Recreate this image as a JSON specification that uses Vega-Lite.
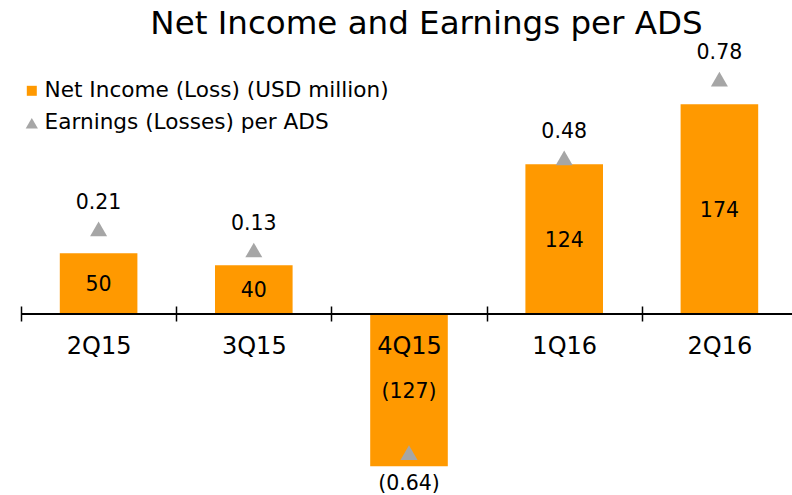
{
  "$schema": "https://vega.github.io/schema/vega-lite/v6.json",
  "width": 771,
  "height": 440,
  "autosize": {"type": "none"},
  "padding": {"left": 21, "top": 50, "right": 0, "bottom": 5},
  "background": "white",
  "config": {
    "view": {"stroke": null},
    "font": "DejaVu Sans",
    "text": {"font": "DejaVu Sans", "color": "#000000"}
  },
  "title": {
    "text": "Net Income and Earnings per ADS",
    "font": "DejaVu Sans",
    "fontSize": 32.5,
    "fontWeight": "normal",
    "color": "#000000",
    "anchor": "middle",
    "baseline": "alphabetic",
    "dx": 20,
    "offset": -23
  },
  "data": {
    "values": [
      {"quarter": "2Q15", "income": 50, "incomeLabel": "50", "eps": 0.21, "epsLabel": "0.21"},
      {"quarter": "3Q15", "income": 40, "incomeLabel": "40", "eps": 0.13, "epsLabel": "0.13"},
      {"quarter": "4Q15", "income": -127, "incomeLabel": "(127)", "eps": -0.64, "epsLabel": "(0.64)"},
      {"quarter": "1Q16", "income": 124, "incomeLabel": "124", "eps": 0.48, "epsLabel": "0.48"},
      {"quarter": "2Q16", "income": 174, "incomeLabel": "174", "eps": 0.78, "epsLabel": "0.78"}
    ]
  },
  "resolve": {"scale": {"y": "independent"}, "axis": {"x": "independent"}},
  "layer": [
    {
      "mark": {"type": "bar", "width": {"band": 0.5}},
      "encoding": {
        "x": {
          "field": "quarter", "type": "nominal", "sort": null,
          "scale": {"range": [0, 776], "paddingInner": 0, "paddingOuter": 0},
          "axis": {
            "orient": "bottom", "offset": -176.5, "title": null, "grid": false,
            "domainColor": "#000000", "domainWidth": 2,
            "tickColor": "#000000", "tickWidth": 1.5, "tickSize": 7.5, "tickBand": "extent",
            "labelFont": "DejaVu Sans", "labelFontSize": 24, "labelColor": "#000000",
            "labelAngle": 0, "labelBaseline": "middle", "labelPadding": 25, "zindex": 1
          }
        },
        "y": {
          "field": "income", "type": "quantitative",
          "scale": {"domain": [-146.7, 219.0], "nice": false, "zero": false},
          "axis": null
        },
        "color": {
          "datum": "Net Income (Loss) (USD million)",
          "scale": {
            "domain": ["Net Income (Loss) (USD million)", "Earnings (Losses) per ADS"],
            "range": ["#FF9900", "#A6A6A6"]
          },
          "legend": {
            "title": null,
            "orient": "none",
            "legendX": 0,
            "legendY": 30,
            "labelFont": "DejaVu Sans",
            "labelFontSize": 21.6,
            "labelColor": "#000000",
            "labelLimit": 500,
            "symbolSize": 110,
            "symbolOpacity": 1,
            "rowPadding": 9.5,
            "labelOffset": 2,
            "symbolStrokeWidth": 0,
            "encode": {
              "symbols": {
                "update": {
                  "shape": {"signal": "datum.label === 'Earnings (Losses) per ADS' ? 'triangle-up' : 'square'"},
                  "size": {"signal": "datum.label === 'Earnings (Losses) per ADS' ? 150 : 100"}
                }
              }
            }
          }
        }
      }
    },
    {
      "mark": {"type": "text", "fontSize": 20.5, "baseline": "middle", "align": "center", "dy": 2},
      "encoding": {
        "x": {"field": "quarter", "type": "nominal", "sort": null, "axis": null},
        "y": {
          "field": "income", "type": "quantitative",
          "scale": {"domain": [-293.4, 438.0], "nice": false, "zero": false},
          "axis": null
        },
        "text": {"field": "incomeLabel"}
      }
    },
    {
      "mark": {"type": "point", "shape": "triangle-up", "filled": true, "size": 289, "opacity": 1},
      "encoding": {
        "x": {
          "field": "quarter", "type": "nominal", "sort": null,
          "axis": {
            "orient": "top", "offset": -263.5, "title": null, "grid": false,
            "domain": false, "labels": false,
            "tickColor": "#000000", "tickWidth": 1.5, "tickSize": 7.5, "tickBand": "extent", "zindex": 1
          }
        },
        "y": {
          "field": "eps", "type": "quantitative",
          "scale": {"domain": [-0.7825, 0.8905], "nice": false, "zero": false},
          "axis": null
        },
        "color": {"datum": "Earnings (Losses) per ADS"}
      }
    },
    {
      "transform": [{"filter": "datum.eps >= 0"}],
      "mark": {"type": "text", "fontSize": 20.5, "baseline": "middle", "align": "center", "dy": -26},
      "encoding": {
        "x": {"field": "quarter", "type": "nominal", "sort": null, "axis": null},
        "y": {
          "field": "eps", "type": "quantitative",
          "scale": {"domain": [-0.7825, 0.8905], "nice": false, "zero": false},
          "axis": null
        },
        "text": {"field": "epsLabel"}
      }
    },
    {
      "transform": [{"filter": "datum.eps < 0"}],
      "mark": {"type": "text", "fontSize": 20.5, "baseline": "middle", "align": "center", "dy": 31},
      "encoding": {
        "x": {"field": "quarter", "type": "nominal", "sort": null, "axis": null},
        "y": {
          "field": "eps", "type": "quantitative",
          "scale": {"domain": [-0.7825, 0.8905], "nice": false, "zero": false},
          "axis": null
        },
        "text": {"field": "epsLabel"}
      }
    }
  ]
}
